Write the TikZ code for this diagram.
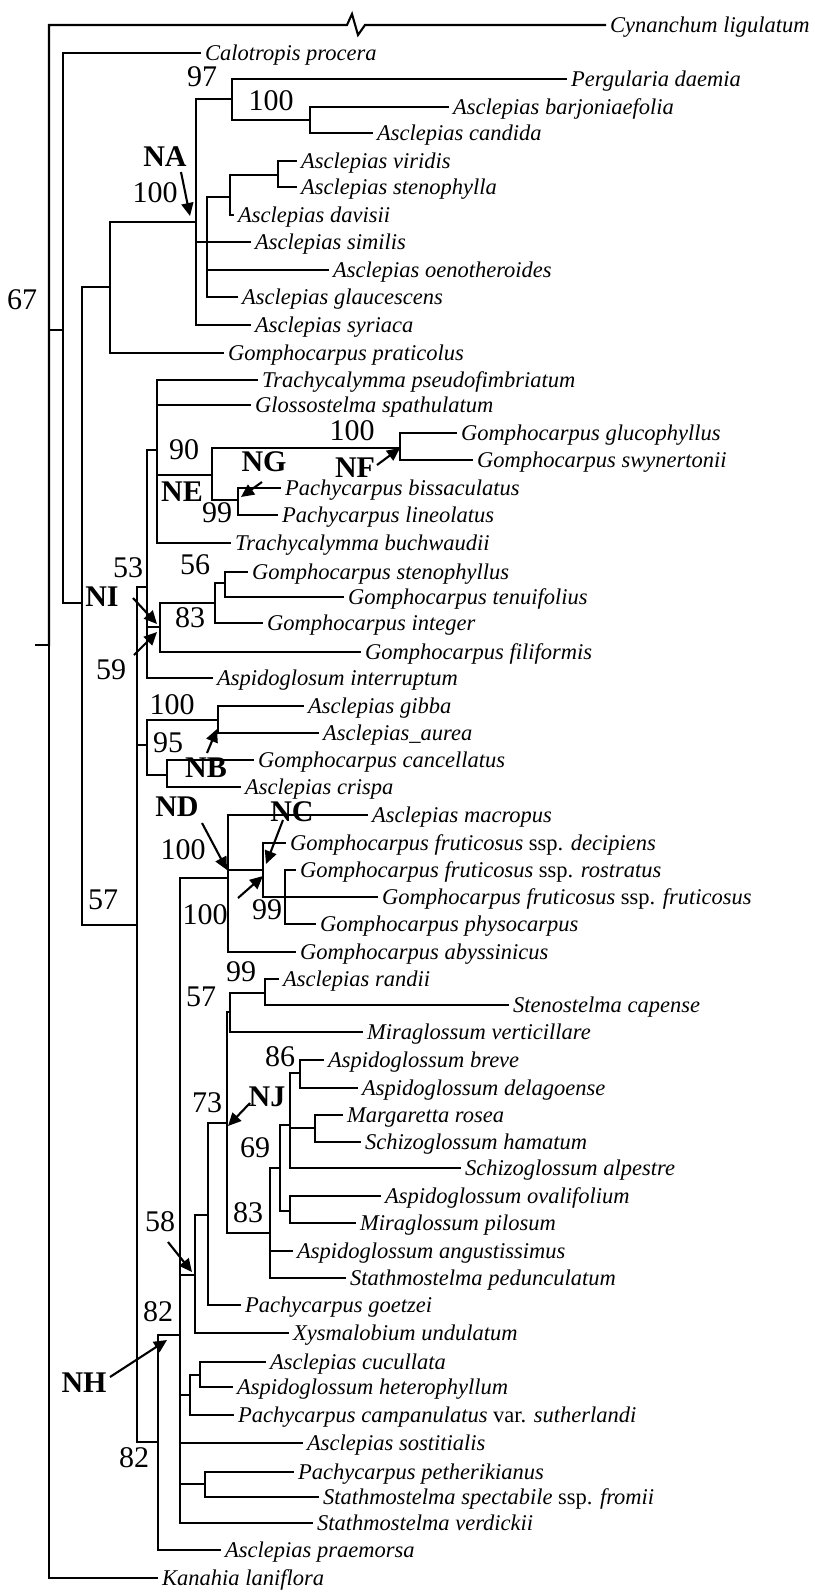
\documentclass[tikz,border=0pt]{standalone}
\usepackage{fontspec}
\setmainfont{Liberation Serif}
\usetikzlibrary{arrows.meta}
\begin{document}
\begin{tikzpicture}[x=1pt,y=-1pt,
  tree/.style={line width=2.1pt,line cap=rect},
  leaf/.style={anchor=west,inner xsep=5pt,inner ysep=0pt,text height=15pt,text depth=0pt,font=\itshape\fontsize{22.5}{24}\selectfont},
  sup/.style={inner sep=0pt,font=\fontsize{30}{32}\selectfont},
  tag/.style={inner sep=0pt,font=\bfseries\fontsize{30}{32}\selectfont},
  ptr/.style={line width=2.1pt,-{Triangle[length=13pt,width=12pt]}}]
\useasboundingbox (0,0) rectangle (814,1593);
% internal nodes
\coordinate (root) at (49,645);
\coordinate (tick) at (36,645);
\coordinate (z0) at (347,25);
\coordinate (z1) at (352,14);
\coordinate (z2) at (358,35);
\coordinate (z3) at (365,25);
\coordinate (n63) at (63,330);
\coordinate (n82) at (82,603);
\coordinate (n110) at (110,287);
\coordinate (nNA) at (196,222);
\coordinate (n97) at (232,99);
\coordinate (n310) at (310,120);
\coordinate (n207) at (207,242);
\coordinate (n230) at (230,197);
\coordinate (n278) at (278,175);
\coordinate (n137) at (137,925);
\coordinate (n147a) at (147,587);
\coordinate (n157) at (157,450);
\coordinate (n212) at (212,475);
\coordinate (nNF) at (400,448);
\coordinate (n238) at (238,500);
\coordinate (n160) at (160,627);
\coordinate (n215) at (215,603);
\coordinate (n225) at (225,583);
\coordinate (n147b) at (147,745);
\coordinate (n218) at (218,720);
\coordinate (n167) at (167,775);
\coordinate (n158) at (158,1442);
\coordinate (n180) at (180,1335);
\coordinate (nND) at (228,878);
\coordinate (nNC) at (263,870);
\coordinate (n285) at (285,897);
\coordinate (n195) at (195,1275);
\coordinate (n208) at (208,1215);
\coordinate (n227) at (227,1123);
\coordinate (n230b) at (230,1012);
\coordinate (n265) at (265,993);
\coordinate (n270) at (270,1233);
\coordinate (n280) at (280,1168);
\coordinate (n290a) at (290,1125);
\coordinate (n300) at (300,1073);
\coordinate (n315) at (315,1128);
\coordinate (n290b) at (290,1211);
\coordinate (n190) at (190,1395);
\coordinate (n200) at (200,1375);
\coordinate (n205) at (205,1484);
% leaves
\node[leaf] (cyn) at (605,25) {Cynanchum ligulatum};
\node[leaf] (cal) at (200,53) {Calotropis procera};
\node[leaf] (perg) at (566,79) {Pergularia daemia};
\node[leaf] (barj) at (448,107) {Asclepias barjoniaefolia};
\node[leaf] (cand) at (372,133) {Asclepias candida};
\node[leaf] (viri) at (296,161) {Asclepias viridis};
\node[leaf] (sten) at (296,187) {Asclepias stenophylla};
\node[leaf] (davi) at (233,215) {Asclepias davisii};
\node[leaf] (simi) at (250,242) {Asclepias similis};
\node[leaf] (oeno) at (328,270) {Asclepias oenotheroides};
\node[leaf] (glauc) at (237,297) {Asclepias glaucescens};
\node[leaf] (syri) at (250,325) {Asclepias syriaca};
\node[leaf] (prat) at (223,353) {Gomphocarpus praticolus};
\node[leaf] (tpse) at (257,380) {Trachycalymma pseudofimbriatum};
\node[leaf] (glos) at (250,405) {Glossostelma spathulatum};
\node[leaf] (gluc) at (456,433) {Gomphocarpus glucophyllus};
\node[leaf] (swyn) at (472,460) {Gomphocarpus swynertonii};
\node[leaf] (biss) at (280,488) {Pachycarpus bissaculatus};
\node[leaf] (plin) at (277,515) {Pachycarpus lineolatus};
\node[leaf] (tbuc) at (230,543) {Trachycalymma buchwaudii};
\node[leaf] (gste) at (247,572) {Gomphocarpus stenophyllus};
\node[leaf] (tenu) at (343,597) {Gomphocarpus tenuifolius};
\node[leaf] (integ) at (262,623) {Gomphocarpus integer};
\node[leaf] (fili) at (360,652) {Gomphocarpus filiformis};
\node[leaf] (inte) at (212,678) {Aspidoglosum interruptum};
\node[leaf] (gibb) at (303,706) {Asclepias gibba};
\node[leaf] (aure) at (318,733) {Asclepias\_aurea};
\node[leaf] (canc) at (253,760) {Gomphocarpus cancellatus};
\node[leaf] (cris) at (240,787) {Asclepias crispa};
\node[leaf] (macr) at (367,815) {Asclepias macropus};
\node[leaf] (deci) at (285,843) {Gomphocarpus fruticosus {\upshape ssp.} decipiens};
\node[leaf] (rost) at (295,870) {Gomphocarpus fruticosus {\upshape ssp.} rostratus};
\node[leaf] (frut) at (377,897) {Gomphocarpus fruticosus {\upshape ssp.} fruticosus};
\node[leaf] (phys) at (315,924) {Gomphocarpus physocarpus};
\node[leaf] (abys) at (295,952) {Gomphocarpus abyssinicus};
\node[leaf] (rand) at (278,979) {Asclepias randii};
\node[leaf] (cape) at (508,1005) {Stenostelma capense};
\node[leaf] (verti) at (362,1032) {Miraglossum verticillare};
\node[leaf] (brev) at (323,1060) {Aspidoglossum breve};
\node[leaf] (dela) at (357,1088) {Aspidoglossum delagoense};
\node[leaf] (marg) at (342,1115) {Margaretta rosea};
\node[leaf] (hama) at (360,1142) {Schizoglossum hamatum};
\node[leaf] (alpe) at (460,1168) {Schizoglossum alpestre};
\node[leaf] (oval) at (380,1196) {Aspidoglossum ovalifolium};
\node[leaf] (pilo) at (355,1223) {Miraglossum pilosum};
\node[leaf] (angu) at (292,1251) {Aspidoglossum angustissimus};
\node[leaf] (pedu) at (345,1278) {Stathmostelma pedunculatum};
\node[leaf] (goet) at (240,1305) {Pachycarpus goetzei};
\node[leaf] (xysm) at (288,1333) {Xysmalobium undulatum};
\node[leaf] (cucu) at (265,1362) {Asclepias cucullata};
\node[leaf] (hete) at (232,1387) {Aspidoglossum heterophyllum};
\node[leaf] (camp) at (233,1415) {Pachycarpus campanulatus {\upshape var.} sutherlandi};
\node[leaf] (sost) at (302,1443) {Asclepias sostitialis};
\node[leaf] (pethe) at (293,1472) {Pachycarpus petherikianus};
\node[leaf] (spec) at (318,1497) {Stathmostelma spectabile {\upshape ssp.} fromii};
\node[leaf] (verd) at (312,1523) {Stathmostelma verdickii};
\node[leaf] (prae) at (220,1550) {Asclepias praemorsa};
\node[leaf] (kan) at (157,1578) {Kanahia laniflora};
% branches
\draw[tree] (tick) -- (root);
\draw[tree] (root) |- (z0) -- (z1) -- (z2) -- (z3) -- (cyn.west);
\draw[tree] (root) |- (n63);
\draw[tree] (root) |- (kan.west);
\draw[tree] (n63) |- (cal.west);
\draw[tree] (n63) |- (n82);
\draw[tree] (n82) |- (n110);
\draw[tree] (n82) |- (n137);
\draw[tree] (n110) |- (nNA);
\draw[tree] (n110) |- (prat.west);
\draw[tree] (nNA) |- (n97);
\draw[tree] (nNA) |- (n207);
\draw[tree] (nNA) |- (simi.west);
\draw[tree] (nNA) |- (syri.west);
\draw[tree] (n97) |- (perg.west);
\draw[tree] (n97) |- (n310);
\draw[tree] (n310) |- (barj.west);
\draw[tree] (n310) |- (cand.west);
\draw[tree] (n207) |- (n230);
\draw[tree] (n207) |- (oeno.west);
\draw[tree] (n207) |- (glauc.west);
\draw[tree] (n230) |- (n278);
\draw[tree] (n230) |- (davi.west);
\draw[tree] (n278) |- (viri.west);
\draw[tree] (n278) |- (sten.west);
\draw[tree] (n137) |- (n147a);
\draw[tree] (n137) |- (n147b);
\draw[tree] (n137) |- (n158);
\draw[tree] (n147a) |- (n157);
\draw[tree] (n147a) |- (n160);
\draw[tree] (n147a) |- (inte.west);
\draw[tree] (n157) |- (tpse.west);
\draw[tree] (n157) |- (glos.west);
\draw[tree] (n157) |- (n212);
\draw[tree] (n157) |- (tbuc.west);
\draw[tree] (n212) |- (nNF);
\draw[tree] (n212) |- (n238);
\draw[tree] (nNF) |- (gluc.west);
\draw[tree] (nNF) |- (swyn.west);
\draw[tree] (n238) |- (biss.west);
\draw[tree] (n238) |- (plin.west);
\draw[tree] (n160) |- (n215);
\draw[tree] (n160) |- (fili.west);
\draw[tree] (n215) |- (n225);
\draw[tree] (n215) |- (integ.west);
\draw[tree] (n225) |- (gste.west);
\draw[tree] (n225) |- (tenu.west);
\draw[tree] (n147b) |- (n218);
\draw[tree] (n147b) |- (n167);
\draw[tree] (n218) |- (gibb.west);
\draw[tree] (n218) |- (aure.west);
\draw[tree] (n167) |- (canc.west);
\draw[tree] (n167) |- (cris.west);
\draw[tree] (n158) |- (n180);
\draw[tree] (n158) |- (prae.west);
\draw[tree] (n180) |- (nND);
\draw[tree] (n180) |- (n195);
\draw[tree] (n180) |- (n190);
\draw[tree] (n180) |- (sost.west);
\draw[tree] (n180) |- (n205);
\draw[tree] (n180) |- (verd.west);
\draw[tree] (nND) |- (macr.west);
\draw[tree] (nND) |- (nNC);
\draw[tree] (nND) |- (abys.west);
\draw[tree] (nNC) |- (deci.west);
\draw[tree] (nNC) |- (n285);
\draw[tree] (n285) |- (rost.west);
\draw[tree] (n285) |- (frut.west);
\draw[tree] (n285) |- (phys.west);
\draw[tree] (n195) |- (n208);
\draw[tree] (n195) |- (xysm.west);
\draw[tree] (n208) |- (n227);
\draw[tree] (n208) |- (goet.west);
\draw[tree] (n227) |- (n230b);
\draw[tree] (n227) |- (n270);
\draw[tree] (n230b) |- (n265);
\draw[tree] (n230b) |- (verti.west);
\draw[tree] (n265) |- (rand.west);
\draw[tree] (n265) |- (cape.west);
\draw[tree] (n270) |- (n280);
\draw[tree] (n270) |- (angu.west);
\draw[tree] (n270) |- (pedu.west);
\draw[tree] (n280) |- (n290a);
\draw[tree] (n280) |- (n290b);
\draw[tree] (n290a) |- (n300);
\draw[tree] (n290a) |- (n315);
\draw[tree] (n290a) |- (alpe.west);
\draw[tree] (n300) |- (brev.west);
\draw[tree] (n300) |- (dela.west);
\draw[tree] (n315) |- (marg.west);
\draw[tree] (n315) |- (hama.west);
\draw[tree] (n290b) |- (oval.west);
\draw[tree] (n290b) |- (pilo.west);
\draw[tree] (n190) |- (n200);
\draw[tree] (n190) |- (camp.west);
\draw[tree] (n200) |- (cucu.west);
\draw[tree] (n200) |- (hete.west);
\draw[tree] (n205) |- (pethe.west);
\draw[tree] (n205) |- (spec.west);
% support values
\node[sup] (s67) at (22,300) {67};
\node[sup] (s97) at (202,77) {97};
\node[sup] (s100a) at (271,101) {100};
\node[sup] (s100b) at (155,193) {100};
\node[sup] (s90) at (184,450) {90};
\node[sup] (s100c) at (352,431) {100};
\node[sup] (s99a) at (217,513) {99};
\node[sup] (s53) at (128,568) {53};
\node[sup] (s56) at (195,565) {56};
\node[sup] (s83a) at (190,618) {83};
\node[sup] (s59) at (111,670) {59};
\node[sup] (s100d) at (172,705) {100};
\node[sup] (s95) at (168,743) {95};
\node[sup] (s100e) at (183,850) {100};
\node[sup] (s57a) at (103,900) {57};
\node[sup] (s99b) at (267,910) {99};
\node[sup] (s100f) at (205,915) {100};
\node[sup] (s99c) at (241,972) {99};
\node[sup] (s57b) at (201,997) {57};
\node[sup] (s86) at (280,1057) {86};
\node[sup] (s73) at (207,1103) {73};
\node[sup] (s69) at (255,1148) {69};
\node[sup] (s83b) at (248,1213) {83};
\node[sup] (s58) at (160,1222) {58};
\node[sup] (s82a) at (158,1312) {82};
\node[sup] (s82b) at (134,1458) {82};
% node tags
\node[tag] (tNA) at (165,157) {NA};
\node[tag] (tNG) at (264,462) {NG};
\node[tag] (tNF) at (355,468) {NF};
\node[tag] (tNE) at (182,492) {NE};
\node[tag] (tNI) at (102,597) {NI};
\node[tag] (tNB) at (206,768) {NB};
\node[tag] (tND) at (177,807) {ND};
\node[tag] (tNC) at (292,812) {NC};
\node[tag] (tNJ) at (267,1097) {NJ};
\node[tag] (tNH) at (84,1383) {NH};
% pointer arrows
\coordinate (aNA0) at (181,172); \coordinate (aNA1) at (190,216);
\coordinate (aNF0) at (377,465); \coordinate (aNF1) at (400,448);
\coordinate (aNG0) at (262,482); \coordinate (aNG1) at (241,497);
\coordinate (aNI0) at (133,598); \coordinate (aNI1) at (157,624);
\coordinate (a590) at (134,655); \coordinate (a591) at (157,632);
\coordinate (aNB0) at (207,753); \coordinate (aNB1) at (217,729);
\coordinate (aND0) at (202,823); \coordinate (aND1) at (227,870);
\coordinate (aNC0) at (283,820); \coordinate (aNC1) at (266,864);
\coordinate (a990) at (238,898); \coordinate (a991) at (263,876);
\coordinate (aNJ0) at (250,1103); \coordinate (aNJ1) at (228,1126);
\coordinate (a580) at (168,1242); \coordinate (a581) at (192,1272);
\coordinate (aNH0) at (110,1377); \coordinate (aNH1) at (167,1340);
\draw[ptr] (aNA0) -- (aNA1);
\draw[ptr] (aNF0) -- (aNF1);
\draw[ptr] (aNG0) -- (aNG1);
\draw[ptr] (aNI0) -- (aNI1);
\draw[ptr] (a590) -- (a591);
\draw[ptr] (aNB0) -- (aNB1);
\draw[ptr] (aND0) -- (aND1);
\draw[ptr] (aNC0) -- (aNC1);
\draw[ptr] (a990) -- (a991);
\draw[ptr] (aNJ0) -- (aNJ1);
\draw[ptr] (a580) -- (a581);
\draw[ptr] (aNH0) -- (aNH1);
\end{tikzpicture}
\end{document}
